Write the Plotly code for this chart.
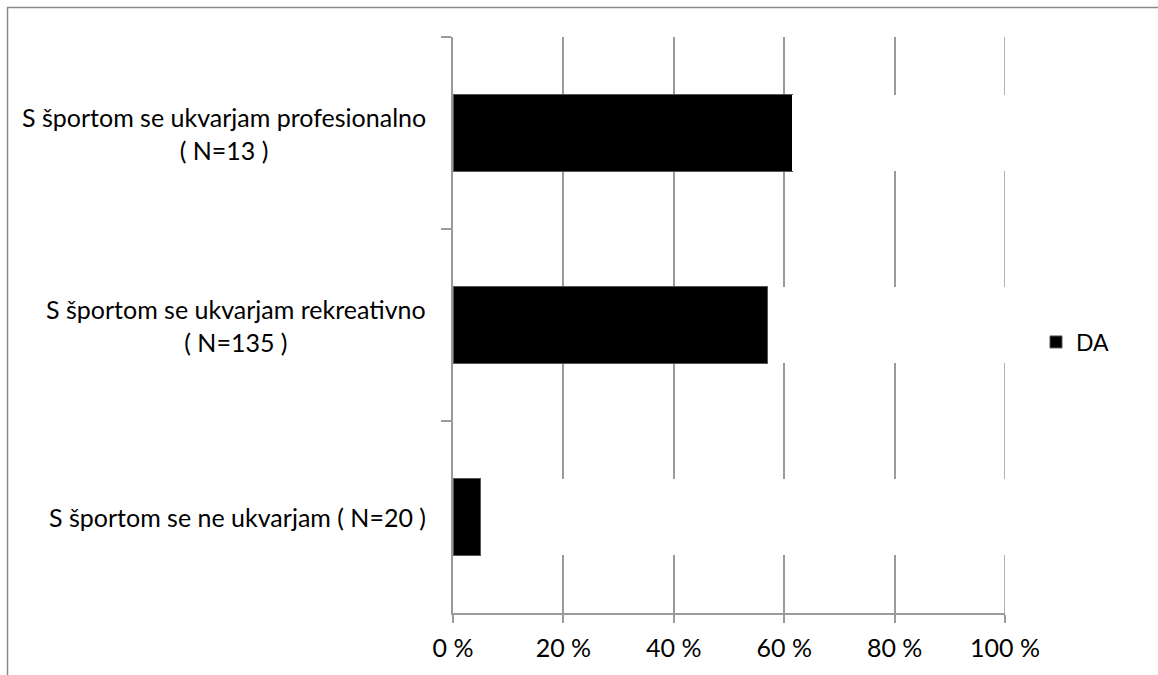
import plotly.graph_objects as go

categories = [
    "S športom se ukvarjam profesionalno<br>( N=13 )",
    "S športom se ukvarjam rekreativno<br>( N=135 )",
    "S športom se ne ukvarjam ( N=20 )",
]
da_values = [61.5, 57.0, 5.0]
ne_values = [38.5, 43.0, 95.0]
x_ticks = [0, 20, 40, 60, 80, 100]
x_tick_labels = ["0 %", "20 %", "40 %", "60 %", "80 %", "100 %"]

W, H = 1158, 675
L, R, T, B = 453, 1005, 37, 613

FONT = "Lato"
GRAY = "#9a9a9a"

fig = go.Figure()
fig.add_trace(go.Bar(
    y=categories, x=da_values, orientation="h", name="DA",
    marker=dict(color="#000000", line=dict(color="#555555", width=1)),
))
fig.add_trace(go.Bar(
    y=categories, x=ne_values, orientation="h", name="NE", showlegend=False,
    marker=dict(color="#ffffff", line=dict(color="#ffffff", width=0)),
))

annotations = []
for c in categories:
    annotations.append(dict(
        x=(428 - L) / (R - L), xref="paper", y=c, yref="y",
        text=c, showarrow=False, xanchor="right", yanchor="middle", align="center",
        font=dict(family=FONT, size=25, color="#000"),
    ))

fig.update_layout(
    width=W, height=H,
    margin=dict(l=L, r=W - R, t=T, b=H - B, pad=0),
    paper_bgcolor="white", plot_bgcolor="white",
    barmode="stack", bargap=0.604,
    font=dict(family=FONT, size=25, color="#000"),
    showlegend=True,
    legend=dict(x=(1036 - L) / (R - L), xanchor="left", y=(B - 342) / (B - T), yanchor="middle",
                font=dict(family=FONT, size=23), bgcolor="rgba(0,0,0,0)"),
    xaxis=dict(range=[0, 100], tickvals=x_ticks, ticktext=x_tick_labels,
               showgrid=True, gridcolor=GRAY, gridwidth=1.5, zeroline=False,
               showline=True, linecolor=GRAY, linewidth=1.5,
               ticks="outside", ticklen=8, tickcolor=GRAY, tickwidth=1.5,
               ticklabelstandoff=4,
               tickfont=dict(family=FONT, size=25)),
    yaxis=dict(categoryorder="array", categoryarray=categories, range=[2.5, -0.5],
               showticklabels=False, showgrid=False, zeroline=False,
               showline=True, linecolor=GRAY, linewidth=1.5,
               ticks="outside", ticklen=10, tickcolor=GRAY, tickwidth=1.5,
               tickson="boundaries"),
    annotations=annotations,
    shapes=[
        # 100 % gridline (drawn beneath the bars)
        dict(type="line", xref="x", yref="paper", x0=x_ticks[-1], x1=x_ticks[-1],
             y0=0, y1=1, layer="below", line=dict(color=GRAY, width=1.5)),
        dict(type="line", xref="paper", yref="paper",
             x0=(7 - L) / (R - L), x1=(1170 - L) / (R - L),
             y0=(B - 7.5) / (B - T), y1=(B - 7.5) / (B - T),
             line=dict(color="#8a8a8a", width=1.5)),
        dict(type="line", xref="paper", yref="paper",
             x0=(7.5 - L) / (R - L), x1=(7.5 - L) / (R - L),
             y0=(B - 7) / (B - T), y1=(B - 690) / (B - T),
             line=dict(color="#8a8a8a", width=1.5)),
    ],
)

fig.write_html("out.html")
